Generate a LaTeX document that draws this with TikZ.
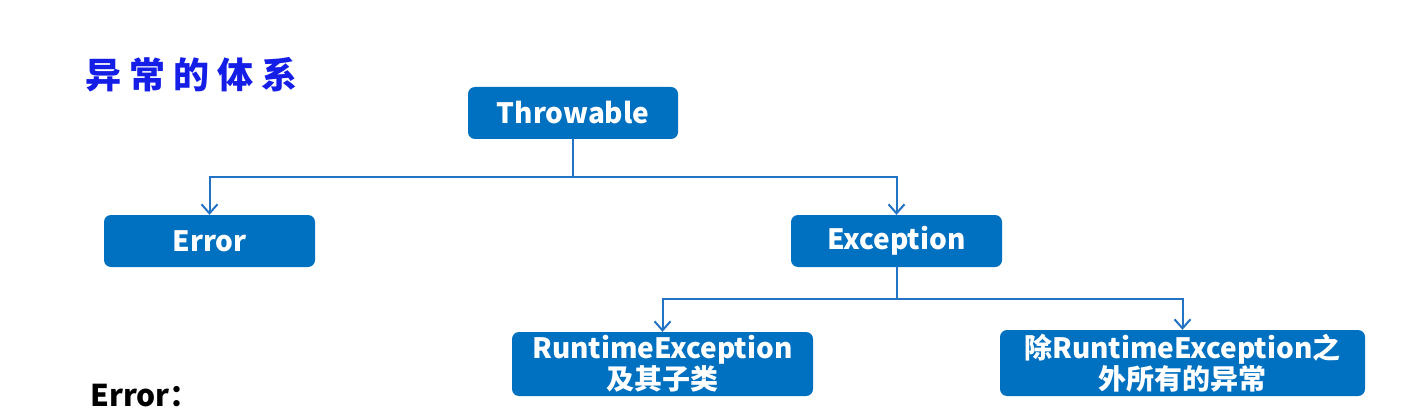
\documentclass[tikz,border=0pt]{standalone}
\usepackage{fontspec}
\setmainfont{Noto Sans CJK SC}
\newfontfamily\titlefont[LetterSpace=22]{Noto Sans CJK SC}
\usetikzlibrary{arrows.meta}
\definecolor{boxblue}{RGB}{0,112,192}
\definecolor{lineblue}{RGB}{36,114,196}
\definecolor{titleblue}{RGB}{20,30,230}
\tikzset{
  classbox/.style={fill=boxblue, rounded corners=7pt, text=white, inner sep=0pt,
    font=\bfseries\fontsize{28}{31}\selectfont, align=center},
  branch/.style={draw=lineblue, line width=2pt, -{Straight Barb[length=9pt,width=16pt,line width=2pt]}},
}
\begin{document}
\begin{tikzpicture}[x=1pt,y=-1pt]
			%%%%% START %%%%%
			\useasboundingbox[fill=white] (0,0) rectangle (1402,409);

			\node[text=titleblue, font=\titlefont\bfseries\fontsize{36}{40}\selectfont, anchor=west] (title) at (82,75) {异常的体系};

			\node[classbox, minimum width=210pt, minimum height=52pt] (throw) at (573,113) {Throwable};
			\node[classbox, minimum width=211pt, minimum height=52pt] (err) at (209.5,241) {Error};
			\node[classbox, minimum width=211pt, minimum height=52pt] (exc) at (896.5,241) {Exception};
			\node[classbox, minimum width=301pt, minimum height=64pt] (rte) at (662.5,364) {RuntimeException\\及其子类};
			\node[classbox, minimum width=365pt, minimum height=66pt] (other) at (1182.5,363) {除RuntimeException之\\外所有的异常};

			\coordinate (tj) at (573,177);
			\coordinate (ej) at (896.5,299);

			\draw[branch] (throw.south) -- (tj) -| (err.north);
			\draw[branch] (throw.south) -- (tj) -| (exc.north);
			\draw[branch] (exc.south) -- (ej) -| (rte.north);
			\draw[branch] (exc.south) -- (ej) -| (other.north);

			\node[anchor=base west, inner sep=0pt, font=\bfseries\fontsize{30}{34}\selectfont] (errnote) at (90,406) {Error：};
			%%%%% END %%%%%
		\end{tikzpicture}
\end{document}
